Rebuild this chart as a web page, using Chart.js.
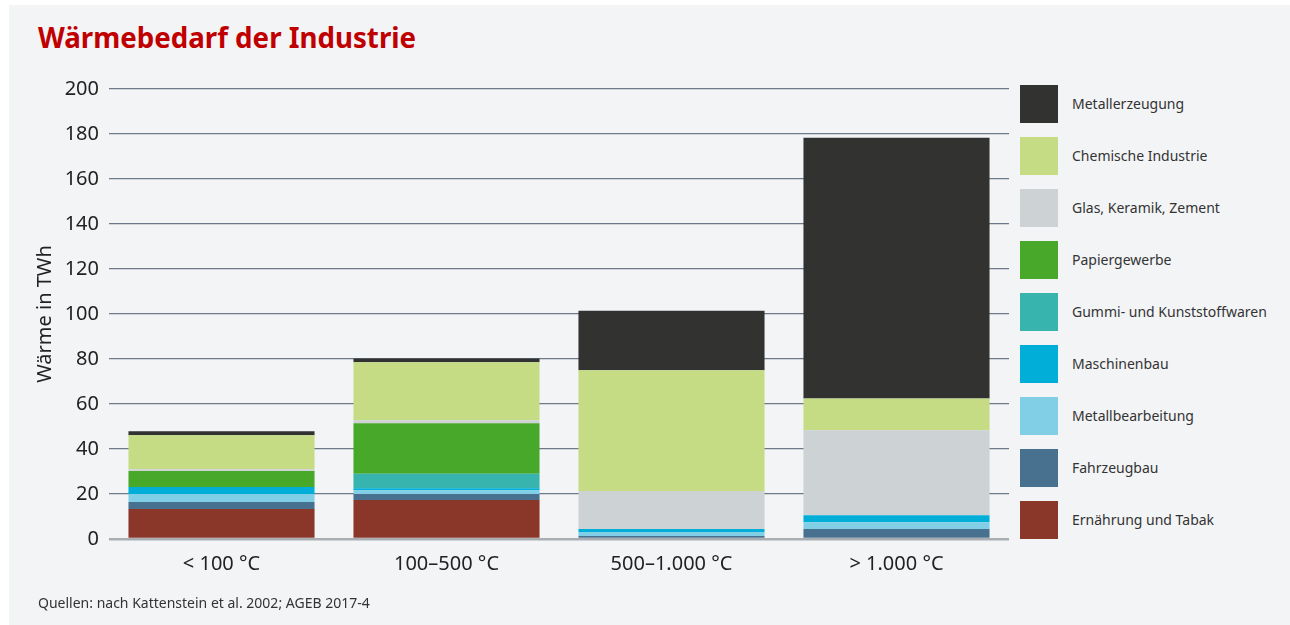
<!DOCTYPE html>
<html lang="de">
<head>
<meta charset="utf-8">
<title>Wärmebedarf der Industrie</title>
<script src="https://cdn.jsdelivr.net/npm/chart.js@4"></script>
<style>
  html, body { margin: 0; padding: 0; background: #fff; }
  body { width: 1290px; height: 625px; position: relative; overflow: hidden; font-family: 'Noto Sans', sans-serif; }
  #panel { position: absolute; left: 9px; top: 5px; width: 1281px; height: 620px; background: #f3f4f6; }
  #titel { position: absolute; left: 38px; top: 20px; line-height: 34px; font-size: 27.7px; font-weight: bold; color: #c00000; }
  #quelle { position: absolute; left: 38px; top: 594px; line-height: 18px; font-size: 14px; color: #333; }
  #grafik { position: absolute; left: 0; top: 0; }
  #legende { position: absolute; left: 1020px; top: 85px; }
  .eintrag { position: absolute; left: 0; width: 260px; height: 38px; }
  .kasten { position: absolute; left: 0; top: 0; width: 38px; height: 38px; }
  .text { position: absolute; left: 52px; top: 0; line-height: 38px; font-size: 14px; color: #333; white-space: nowrap; }
</style>
</head>
<body>
<div id="panel"></div>
<div id="titel">Wärmebedarf der Industrie</div>
<canvas id="grafik" width="1010" height="600"></canvas>
<div id="legende"></div>
<div id="quelle">Quellen: nach Kattenstein et al. 2002; AGEB 2017-4</div>
<script>
// Temperaturbereiche
const kategorien = ['< 100 °C', '100–500 °C', '500–1.000 °C', '> 1.000 °C'];

// Werte in TWh, von unten nach oben gestapelt
const ernaehrung        = [13.3, 17.3, 0, 0];
const fahrzeugbau       = [3.1, 2.7, 1.3, 4.4];
const metallbearbeitung = [3.6, 1.7, 1.8, 3.1];
const maschinenbau      = [3.1, 0.9, 1.3, 3.1];
const gummi             = [0, 6.4, 0, 0];
const papier            = [7.1, 22.4, 0, 0];
const glas              = [0.8, 1.4, 16.9, 37.7];
const chemie            = [15.1, 25.8, 53.7, 14.2];
const metallerzeugung   = [1.8, 1.6, 26.5, 115.8];

const yTicks = [0, 20, 40, 60, 80, 100, 120, 140, 160, 180, 200];

const reihen = [
    { label: 'Ernährung und Tabak', data: ernaehrung, farbe: '#8a3628' },
    { label: 'Fahrzeugbau', data: fahrzeugbau, farbe: '#48718f' },
    { label: 'Metallbearbeitung', data: metallbearbeitung, farbe: '#80cfe6' },
    { label: 'Maschinenbau', data: maschinenbau, farbe: '#00aed8' },
    { label: 'Gummi- und Kunststoffwaren', data: gummi, farbe: '#36b4ad' },
    { label: 'Papiergewerbe', data: papier, farbe: '#48a82a' },
    { label: 'Glas, Keramik, Zement', data: glas, farbe: '#cdd2d5' },
    { label: 'Chemische Industrie', data: chemie, farbe: '#c5dc85' },
    { label: 'Metallerzeugung', data: metallerzeugung, farbe: '#323230' }
];

const schrift = "'Noto Sans', sans-serif";

// Legende rechts, oberste Schicht zuerst
const legende = document.getElementById('legende');
reihen.slice().reverse().forEach((r, i) => {
    const eintrag = document.createElement('div');
    eintrag.className = 'eintrag';
    eintrag.style.top = (i * 52) + 'px';
    eintrag.innerHTML = '<div class="kasten" style="background:' + r.farbe + '"></div><div class="text"></div>';
    eintrag.querySelector('.text').textContent = r.label;
    legende.appendChild(eintrag);
});

new Chart(document.getElementById('grafik'), {
    type: 'bar',
    data: {
        labels: kategorien,
        datasets: reihen.map(r => ({
            label: r.label,
            data: r.data,
            backgroundColor: r.farbe,
            borderWidth: 0,
            categoryPercentage: 1,
            barPercentage: 0.827
        }))
    },
    options: {
        responsive: false,
        animation: false,
        devicePixelRatio: 1,
        layout: { padding: { top: 89, right: 1, left: 0, bottom: 0 } },
        plugins: {
            legend: { display: false },
            tooltip: { enabled: false }
        },
        scales: {
            x: {
                stacked: true,
                grid: { display: false, drawTicks: false },
                border: { display: false },
                ticks: { color: '#222', padding: 13, font: { family: schrift, size: 20 } },
                afterFit: function (scale) { scale.height = 61; }
            },
            y: {
                stacked: true,
                min: 0,
                max: 200,
                afterBuildTicks: function (scale) { scale.ticks = yTicks.map(v => ({ value: v })); },
                grid: {
                    drawTicks: false,
                    color: ctx => ctx.tick && ctx.tick.value === 0 ? '#a9aeb3' : '#6c7988',
                    lineWidth: ctx => ctx.tick && ctx.tick.value === 0 ? 2.5 : 1.3
                },
                border: { display: false },
                ticks: { color: '#222', padding: 10, font: { family: schrift, size: 20 } },
                title: {
                    display: true,
                    text: 'Wärme in TWh',
                    color: '#222',
                    padding: { top: 33, bottom: 0 },
                    font: { family: schrift, size: 20 }
                },
                afterFit: function (scale) { scale.width = 109; }
            }
        }
    }
});
</script>
</body>
</html>
